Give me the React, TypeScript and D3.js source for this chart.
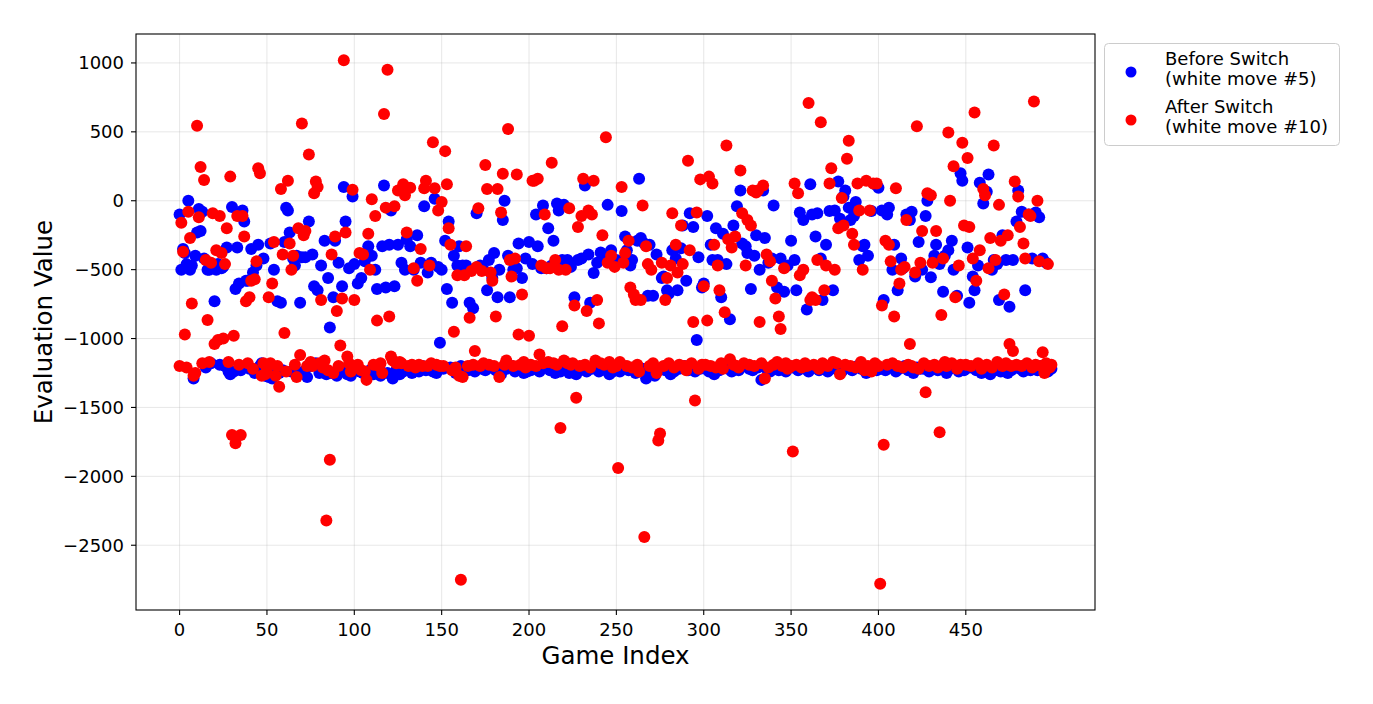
import React from 'react';
import * as d3 from 'd3';

// Evaluation before the switch (white move #5), one value per game
const beforeSwitch: number[] = [
  -100, -500, -350, -380, -460, 0, -500, -470, -1290, -400, -230, -60, -220, -80, -420, -1210, -500, -500, -1180, -480, -730, -500, -460, -1190, -490,
  -480, -1200, -340, -1240, -1260, -45, -1240, -640, -340, -600, -1230, -70, -150, -580, -580, -1220, -350, -520, -1250, -470, -320, -1200, -1180, -420, -1270,
  -1240, -1280, -310, -1290, -500, -1260, -730, -1250, -740, -1230, -300, -50, -70, -230, -1240, -420, -470, -400, -1250, -740, -410, -1240, -410, -1280, -150,
  -1200, -390, -620, -1180, -650, -1250, -470, -1240, -290, -1260, -560, -920, -1250, -700, -290, -1270, -450, -1230, -620, 100, -150, -1260, -490, -1270, 30,
  -460, -1230, -600, -1240, -560, -1250, -440, -1280, -330, -1230, -400, -1260, -500, -640, -1210, -1270, -330, 110, -630, -1250, -320, -70, -1290, -620, -1230,
  -320, -1260, -450, -1240, -500, -280, -1220, -330, -1250, -500, -1210, -250, -1240, -450, -1200, -40, -1230, -520, -1210, -450, -1240, 15, -1250, -480, -1030,
  -500, -1220, -290, -640, -150, -1210, -740, -400, -1250, -470, -330, -1200, -470, -1220, -470, -1230, -740, -1200, -780, -1240, -90, -1210, -470, -1220, -500,
  -1230, -650, -430, -1210, -560, -380, -1230, -700, -500, -1260, -140, 0, -1220, -400, -700, -1200, -500, -1240, -490, -310, -1210, -560, -1250, -420, -1240,
  -300, -1230, -460, -1220, -100, -330, -1240, -490, -35, -1210, -490, -200, -1230, -470, -290, -1250, -20, -70, -1240, -430, -30, -1200, -430, -1250, -480,
  -1220, -700, -1260, -430, -1230, -420, -1200, 110, -1240, -390, -740, -1220, -525, -1210, -450, -1240, -375, -1200, -400, -1230, -30, -1260, -360, -1240, -440,
  -430, -1220, -1240, -75, -1200, -260, -360, -1230, -470, -430, -1210, -1250, -290, 160, -270, -1220, -310, -1290, -690, -320, -1240, -690, -1270, -390, -1230,
  -1220, -560, -550, -1230, -650, -675, -1260, -360, -1240, -420, -650, -1220, -345, -180, -1200, -580, -1230, -90, -1210, -190, -1240, -1010, -410, -1220, -630,
  -600, -1220, -110, -1240, -320, -430, -1260, -200, -430, -1230, -700, -240, -1200, -460, -1220, -860, -1240, -180, -1210, -40, -1230, 75, -310, -1200, -330,
  -380, -1220, -640, -1230, -400, -250, -1210, -500, -1300, 75, -270, -1220, -450, -1240, -420, -35, -1200, -630, -1230, -420, -1210, -660, -1240, -470, -1200,
  -290, -1210, -430, -650, -1230, -85, -1200, -140, -1220, -790, -1240, 120, -100, -1210, -260, -90, -1230, -420, -720, -1210, -320, -1240, -75, -1220, -650,
  -70, -1220, 140, -130, -1240, 30, 75, -1210, -50, -140, -1230, -110, -10, -1200, -430, -1220, -330, -320, -1250, -400, -1220, -75, -1210, 120, -1230,
  95, -1220, -70, -720, -1230, -100, -50, -1210, -500, -320, -1240, -650, -1220, -420, -490, -1200, -100, -1230, -140, -80, -1250, -550, -1210, -300, -1220,
  -500, -1220, -110, 0, -1240, -555, -1210, -400, -320, -1230, -460, -1200, -660, -400, -1250, -360, -1220, -290, -500, -1210, -690, -1240, 200, 145, -1230,
  -1220, -340, -740, -1210, -550, -650, -1230, -470, 130, -1250, -20, -1240, 65, 190, -1260, -500, -430, -1230, -460, -720, -1240, -250, -1220, -430, -1250,
  -770, -1230, -430, -1210, -150, 75, -1220, -80, -1240, -650, -1200, -100, -1230, -420, -1210, -85, -1230, -120, -1200, -420, -1220, -450, -1240, -1200, -1220,
];

// Evaluation after the switch (white move #10)
const afterSwitch: number[] = [
  -1200, -160, -370, -970, -1210, -80, -270, -745, -1270, -1250, 545, -120, 245, -1180, 150, -430, -865, -1170, -450, -90, -1040, -360, -1010, -110, -380,
  -1000, -460, -200, -1170, 175, -1700, -980, -1760, -110, -1190, -1700, -110, -260, -730, -1180, -700, -580, -1220, -570, -440, 235, 200, -1270, -1180, -1260,
  -1220, -700, -1180, -600, -300, -1270, -1200, -1350, 85, -390, -960, -1240, 145, -310, -500, -400, -1190, -1280, -200, -1120, 560, -250, -220, -1200, 335,
  -1170, -1200, 55, 140, 100, -1180, -720, -1210, -1160, -2320, -1230, -1880, -390, -1250, -260, -800, -1200, -1050, -710, 1020, -230, -1130, -1180, -1240, 80,
  -720, -1200, -1190, -380, -1230, -390, -1240, -1300, -240, -500, 10, -1190, -110, -870, -1200, -1180, -1250, 630, -50, 950, -840, -1130, -1160, -40, -1180,
  75, -1170, -1180, 120, 40, -230, -1200, 95, -1190, -490, -1210, -580, -1190, -350, -1200, 90, 145, -1200, -470, -1180, 425, 90, -1190, -70, -1200,
  -10, -1200, 360, 120, -200, -320, -1230, -950, -1210, -540, -1270, -2750, -1280, -540, -330, -1200, -850, -510, -1190, -1090, -480, -55, -1200, -510, -1180,
  260, 85, -1190, -520, -580, -1200, -840, 85, -1280, -85, 195, -1190, -1160, 520, -430, -550, -1200, -420, 190, -970, -1190, -680, -1170, -1210, -1200,
  -980, -1190, 145, 145, -1200, 160, -1115, -470, -1180, -100, -490, -1170, -490, 275, -1180, -430, -1190, -500, -1650, -910, -1160, -500, -1180, -55, -1190,
  -1180, -760, -1430, -190, -1200, -110, 160, -1190, -800, -70, -1210, -100, 145, -1160, -720, -890, -1180, -250, -1190, 460, -450, -1170, -400, -1210, -480,
  -1200, -1940, -1170, 100, -450, -380, -1200, -290, -630, -1210, -680, -720, -1190, -1240, -720, -35, -2440, -330, -460, -1200, -500, -1180, -1210, -1250, -1740,
  -1690, -450, -1200, -720, -560, -1180, -470, -90, -1210, -320, -520, -1190, -180, -460, -1200, -1230, 290, -360, -1180, -880, -1450, -85, -1220, 155, -1190,
  -620, -1190, -870, 175, -1200, 125, -320, -1210, -470, -650, -1180, -1220, -810, 400, -280, -1150, -340, -1190, -260, -1200, -1210, 220, -90, -1180, -470,
  -140, -1190, -180, 75, -1200, 60, 75, -880, -1180, 110, -1290, -390, -1210, -440, -580, -1190, -710, -1170, -840, -930, -1200, -490, -1180, -1220, -1210,
  -1200, -1820, 125, -1190, 55, -540, -1210, -500, -1180, -1200, 710, -720, -700, -1190, -720, -430, -1220, 570, -1180, -650, -470, -1200, 125, 235, -1170,
  -500, -1180, -200, -1260, 20, -180, -1190, 305, 435, -1200, -240, -320, -1210, 125, -70, -1170, -500, -1230, 145, -1200, -70, -1240, 125, -1180, 125,
  -1200, -2780, -760, -1770, -290, -1190, -320, -440, -1180, -840, 90, -1200, -600, -500, -1210, -480, -140, -1190, -1040, -1200, -1210, -520, 540, -1220, -450,
  -220, -1180, -1390, 55, -1200, 40, -450, -1190, -220, -1210, -1680, -830, -420, -1170, -1200, 495, 0, -1180, 250, -700, -1220, -470, -1190, 420, -180,
  -1190, 310, -190, -1200, -420, 640, -580, -1180, -360, -1220, 85, 40, -1190, -490, -270, -1210, 400, -430, -1170, -30, -290, -1200, -680, -1180, -250,
  -1040, -1200, -1090, 140, -1190, 30, -190, -1200, -310, -420, -1180, -100, -110, -1210, 720, -1190, 0, -440, -1200, -1100, -1250, -1180, -460, -1210, -1190,
];

const xTicks = [0, 50, 100, 150, 200, 250, 300, 350, 400, 450];
const yTicks = [1000, 500, 0, -500, -1000, -1500, -2000, -2500];

const legendEntries = [
  { lines: ['Before Switch', '(white move #5)'], color: 'blue' },
  { lines: ['After Switch', '(white move #10)'], color: 'red' },
];

const width = 1373;
const height = 704;
const margin = { top: 34, right: 278, bottom: 94, left: 136 };
const font = '"DejaVu Sans", sans-serif';

const App: React.FC = () => {
  const innerWidth = width - margin.left - margin.right;
  const innerHeight = height - margin.top - margin.bottom;

  // matplotlib-style 5% padding around the data
  const n = Math.max(beforeSwitch.length, afterSwitch.length);
  const xPad = (n - 1) * 0.05;
  const xScale = d3.scaleLinear()
    .domain([-xPad, n - 1 + xPad])
    .range([0, innerWidth]);

  const allValues = [...beforeSwitch, ...afterSwitch];
  const [yMin, yMax] = d3.extent(allValues) as [number, number];
  const yPad = (yMax - yMin) * 0.05;
  const yScale = d3.scaleLinear()
    .domain([yMin - yPad, yMax + yPad])
    .range([innerHeight, 0]);

  const fmt = (v: number) => (v < 0 ? '\u2212' + Math.abs(v) : String(v));

  return (
    <svg
      width={width}
      height={height}
      style={{ position: 'absolute', left: 0, top: 0, background: '#fff' }}
      fontFamily={font}
    >
      <g transform={`translate(${margin.left},${margin.top})`}>
        {/* Grid lines */}
        {xTicks.map(t => (
          <line key={`gx${t}`} x1={xScale(t)} x2={xScale(t)} y1={0} y2={innerHeight}
            stroke="#b0b0b0" strokeOpacity={0.3} strokeWidth={1} />
        ))}
        {yTicks.map(t => (
          <line key={`gy${t}`} x1={0} x2={innerWidth} y1={yScale(t)} y2={yScale(t)}
            stroke="#b0b0b0" strokeOpacity={0.3} strokeWidth={1} />
        ))}

        {/* Points */}
        {beforeSwitch.map((v, i) => (
          <circle key={`b${i}`} cx={xScale(i)} cy={yScale(v)} r={6} fill="blue" />
        ))}
        {afterSwitch.map((v, i) => (
          <circle key={`r${i}`} cx={xScale(i)} cy={yScale(v)} r={6} fill="red" />
        ))}

        {/* Frame */}
        <rect x={0} y={0} width={innerWidth} height={innerHeight} fill="none" stroke="#000" strokeWidth={1.1} />

        {/* X axis */}
        {xTicks.map(t => (
          <g key={`xt${t}`} transform={`translate(${xScale(t)},${innerHeight})`}>
            <line y1={0} y2={5} stroke="#000" strokeWidth={1.1} />
            <text y={26} textAnchor="middle" fontSize={18} fill="#000">{t}</text>
          </g>
        ))}
        {/* Y axis */}
        {yTicks.map(t => (
          <g key={`yt${t}`} transform={`translate(0,${yScale(t)})`}>
            <line x1={0} x2={-5} stroke="#000" strokeWidth={1.1} />
            <text x={-12} dy="0.36em" textAnchor="end" fontSize={18} fill="#000">{fmt(t)}</text>
          </g>
        ))}

        <text x={innerWidth / 2} y={innerHeight + 54} textAnchor="middle" fontSize={24.5} fill="#000">
          Game Index
        </text>
        <text transform={`translate(${-84},${innerHeight / 2}) rotate(-90)`} textAnchor="middle" fontSize={24.5} fill="#000">
          Evaluation Value
        </text>
      </g>

      {/* Legend */}
      <g transform="translate(1104,43)">
        <rect x={0.5} y={0.5} width={235} height={102} rx={4} fill="#fff" fillOpacity={0.8} stroke="#cccccc" />
        {legendEntries.map((e, i) => (
          <g key={e.color} transform={`translate(0,${i * 48})`}>
            <circle cx={27} cy={29} r={5.5} fill={e.color} />
            <text x={61} y={22} fontSize={18} fill="#000">{e.lines[0]}</text>
            <text x={61} y={42} fontSize={18} fill="#000">{e.lines[1]}</text>
          </g>
        ))}
      </g>
    </svg>
  );
};

export default App;
